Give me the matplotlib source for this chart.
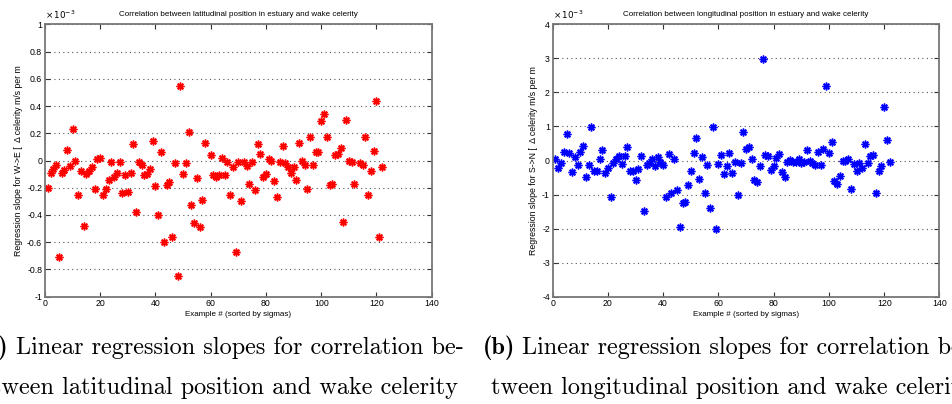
import matplotlib
matplotlib.use("Agg")
import matplotlib.pyplot as plt
from matplotlib.ticker import FuncFormatter

# ---------------- data (values in units of 1e-3) ----------------
lat_x = [1, 2, 3, 4, 5, 6, 7, 8, 9, 10, 11, 12, 13, 14, 15, 16, 17, 18, 19, 20,
         21, 22, 23, 24, 25, 26, 27, 28, 29, 30, 31, 32, 33, 34, 35, 36, 37, 38, 39, 40,
         41, 42, 43, 44, 45, 46, 47, 48, 49, 50, 51, 52, 53, 54, 55, 56, 57, 58, 60,
         61, 62, 63, 64, 65, 66, 67, 68, 69, 70, 71, 72, 73, 74, 75, 76, 77, 78, 79, 80,
         81, 82, 83, 84, 85, 86, 87, 88, 89, 90, 91, 92, 93, 94, 95, 96, 97, 98, 99, 100,
         101, 102, 103, 104, 105, 106, 107, 108, 109, 110, 111, 112, 114, 115, 116, 117,
         118, 119, 120, 121, 122]
lat_y = [-0.20, -0.09, -0.06, -0.03, -0.71, -0.09, -0.07, 0.08, -0.04, 0.23,
         0.00, -0.25, -0.08, -0.48, -0.10, -0.08, -0.05, -0.21, 0.01, 0.02,
         -0.25, -0.21, -0.14, -0.01, -0.12, -0.09, -0.01, -0.24, -0.11, -0.23,
         -0.09, 0.12, -0.38, -0.01, -0.03, -0.11, -0.10, -0.06, 0.14, -0.19,
         -0.40, 0.06, -0.60, -0.18, -0.16, -0.56, -0.02, -0.85, 0.55, -0.10,
         -0.02, 0.21, -0.33, -0.46, -0.13, -0.49, -0.29, 0.13, 0.04,
         -0.11, -0.12, -0.11, 0.02, -0.11, -0.01, -0.25, -0.05, -0.67, -0.01,
         -0.30, -0.01, -0.04, -0.17, -0.01, -0.22, 0.12, 0.05, -0.12, -0.10,
         0.01, 0.00, -0.15, -0.27, -0.01, 0.11, -0.02, -0.05, -0.09, -0.05,
         -0.14, 0.13, 0.00, -0.03, -0.21, 0.17, -0.03, 0.06, 0.06, 0.29,
         0.34, 0.17, -0.18, -0.17, 0.04, 0.05, 0.09, -0.45, 0.30, 0.00,
         -0.01, -0.17, -0.02, -0.03, 0.17, -0.25, -0.08, 0.07, 0.44, -0.56,
         -0.05]

lon_x = list(range(1, 123))
lon_y = [0.05, -0.23, -0.08, 0.25, 0.77, 0.22, -0.33, 0.09, -0.13, 0.24,
         0.44, -0.47, -0.13, 0.98, -0.30, -0.32, 0.03, 0.31, -0.36, -0.21,
         -1.06, -0.08, 0.05, 0.14, -0.11, 0.14, 0.41, -0.30, -0.30, -0.58,
         -0.25, 0.13, -1.48, -0.14, -0.08, 0.05, -0.16, 0.11, -0.05, -0.12,
         -1.07, 0.20, -0.95, 0.04, -0.87, -1.94, -1.26, -1.21, -0.72, -0.30,
         0.21, 0.66, -0.53, 0.09, -0.94, -0.13, -1.39, 0.98, -2.02, -0.11,
         0.15, -0.41, -0.17, 0.22, -0.37, -0.03, -1.01, -0.06, 0.84, 0.33,
         0.41, 0.04, -0.58, -0.62, -0.17, 2.98, 0.17, 0.14, -0.29, -0.15,
         0.08, 0.20, -0.35, -0.47, -0.05, 0.01, -0.03, -0.05, 0.04, -0.06,
         -0.05, 0.30, -0.02, -0.08, -0.12, 0.24, -0.12, 0.34, 2.20, 0.22,
         0.53, -0.61, -0.70, -0.46, 0.00, -0.01, 0.03, -0.85, -0.11, -0.31,
         -0.06, -0.21, 0.47, -0.07, 0.12, 0.17, -0.95, -0.30, -0.15, 1.57,
         0.59, -0.05]

lat_yticks = [-1, -0.8, -0.6, -0.4, -0.2, 0, 0.2, 0.4, 0.6, 0.8, 1]
lon_yticks = [-4, -3, -2, -1, 0, 1, 2, 3, 4]
xticks = [0, 20, 40, 60, 80, 100, 120, 140]

lat_title = "Correlation between latitudinal position in estuary and wake celerity"
lon_title = "Correlation between longitudinal position in estuary and wake celerity"
lat_ylabel = "Regression slope for W->E [  \u0394 celerity m/s per m"
lon_ylabel = "Regression slope for S->N [  \u0394 celerity m/s per m"
xlabel = "Example # (sorted by sigmas)"
cap_a1 = "Linear regression slopes for correlation be-"
cap_a2 = "tween latitudinal position and wake celerity"
cap_b1 = "Linear regression slopes for correlation be-"
cap_b2 = "tween longitudinal position and wake celerity"

# ---------------- figure ----------------
W, H = 952, 404
fig = plt.figure(figsize=(W / 100, H / 100), dpi=100)
SANS = "Liberation Sans"
FS = 6.3


def make_axes(left_px, xs, ys, color, yticks, ylim, title, ylabel):
    ax = fig.add_axes([left_px / W, 1 - 296.7 / H, 386.7 / W, 272.4 / H])
    sy = [v * 1e-3 for v in ys]
    ax.plot(xs, sy, linestyle="none", marker="o", markersize=5.6,
            color=color, alpha=0.16, markeredgewidth=0)
    ax.plot(xs, sy, linestyle="none", marker=(8, 2, 0), markersize=5.6,
            color=color, markeredgewidth=1.0)
    ax.set_xlim(0, 140)
    ax.set_ylim(ylim[0] * 1e-3, ylim[1] * 1e-3)
    ax.set_xticks(xticks)
    ax.set_yticks([t * 1e-3 for t in yticks])
    ax.yaxis.set_major_formatter(FuncFormatter(lambda v, p: f"{round(v * 1e3, 6):g}"))
    ax.tick_params(direction="in", length=3.5, width=0.8, top=True, right=True,
                   labelsize=FS, colors="#333333", pad=2)
    for lbl in ax.get_xticklabels() + ax.get_yticklabels():
        lbl.set_fontfamily(SANS)
        lbl.set_color("black")
    for s in ax.spines.values():
        s.set_color("#777777")
        s.set_linewidth(1.3)
    ax.grid(axis="y", color="#555555", linestyle=(0, (1, 3)), linewidth=0.8)
    ax.set_axisbelow(True)
    ax.set_title(title, fontsize=5.8, family=SANS, pad=6)
    ax.set_ylabel(ylabel, fontsize=FS, family=SANS, labelpad=3)
    ax.set_xlabel(xlabel, fontsize=5.8, family=SANS, labelpad=2)
    ax.text(0.0, 1.012, r"$\times\,10^{-3}$", transform=ax.transAxes,
            fontsize=FS, ha="left", va="bottom", family=SANS)
    return ax


make_axes(45.0, lat_x, lat_y, "#ff0000", lat_yticks, (-1, 1), lat_title, lat_ylabel)
make_axes(552.7, lon_x, lon_y, "#0000ff", lon_yticks, (-4, 4), lon_title, lon_ylabel)

# ---------------- captions ----------------
CFS = 17.5


def caption(text_x_px, y_px, label, text):
    yf = 1 - y_px / H
    fig.text(text_x_px / W, yf, text, fontsize=CFS, family="cmr10",
             ha="left", va="baseline")
    fig.text((text_x_px - 7) / W, yf, label, fontsize=CFS, family="cmb10",
             ha="right", va="baseline")


caption(16, 354, "(a)", cap_a1)
fig.text(-8 / W, 1 - 394 / H, cap_a2, fontsize=CFS, family="cmr10", ha="left", va="baseline")
caption(522, 354, "(b)", cap_b1)
fig.text(491 / W, 1 - 394 / H, cap_b2, fontsize=CFS, family="cmr10", ha="left", va="baseline")

fig.savefig("out.png", dpi=100)
